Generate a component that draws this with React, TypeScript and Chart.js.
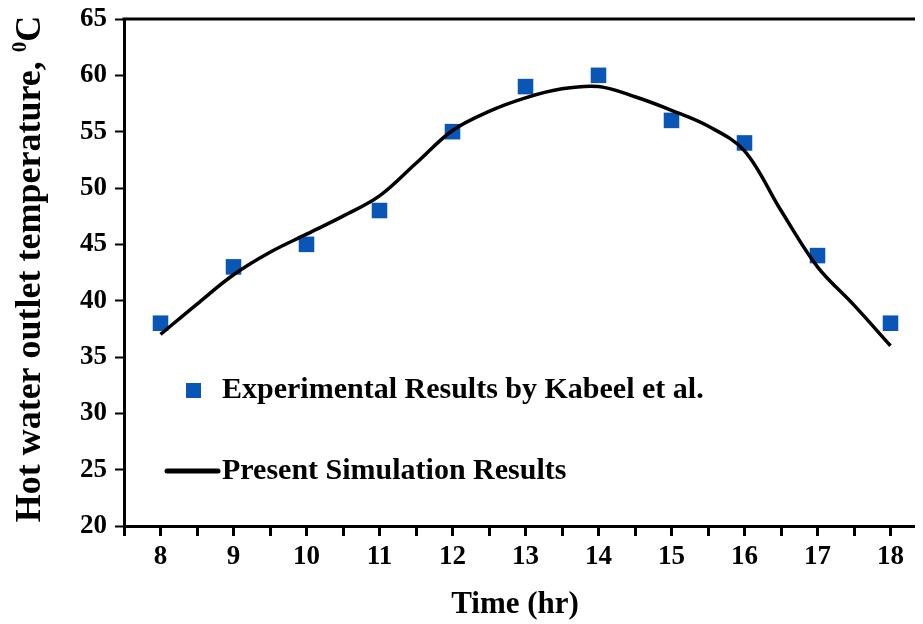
import React, { useEffect, useRef } from "react";
import { Chart, registerables } from "chart.js";

Chart.register(...registerables);

// Measured outlet temperatures (hourly)
const hours = [8, 9, 10, 11, 12, 13, 14, 15, 16, 17, 18];
const experimental = [38, 43, 45, 48, 55, 59, 60, 56, 54, 44, 38];

// Simulated outlet temperature (half-hourly)
const simHours = [8, 8.5, 9, 9.5, 10, 10.5, 11, 11.5, 12, 12.5, 13, 13.5, 14, 14.5, 15, 15.5, 16, 16.5, 17, 17.5, 18];
const simulated = [37.0, 39.7, 42.3, 44.3, 45.9, 47.5, 49.3, 52.2, 55.1, 56.8, 58.0, 58.8, 59.0, 58.1, 56.9, 55.5, 53.3, 48.0, 43.0, 39.6, 36.0];

const expLabel = "Experimental Results by Kabeel et al.";
const simLabel = "Present Simulation Results";
const xTitle = "Time (hr)";
const yTitleMain = "Hot water outlet temperature, ";
const yTitleSup = "0";
const yTitleUnit = "C";

const SERIF = '"Liberation Serif", "Times New Roman", serif';
const BLUE = "#0a56b6";

const decorPlugin = {
  id: "decor",
  afterDraw(chart: any) {
    const { ctx, chartArea } = chart;
    const { left, top, right } = chartArea;
    ctx.save();

    // top frame line
    ctx.strokeStyle = "#000";
    ctx.lineWidth = 3;
    ctx.beginPath();
    ctx.moveTo(left - 1.5, top);
    ctx.lineTo(right + 20, top);
    ctx.stroke();

    // legend inside the plot
    ctx.font = `bold 30px ${SERIF}`;
    ctx.textBaseline = "middle";
    ctx.textAlign = "left";
    const lx = left + 98;
    const y1 = top + 371;
    const y2 = top + 452;
    ctx.fillStyle = BLUE;
    ctx.fillRect(left + 62, y1 - 7, 15, 15);
    ctx.fillStyle = "#000";
    ctx.fillText(expLabel, lx, y1);
    ctx.lineWidth = 5;
    ctx.lineCap = "round";
    ctx.beginPath();
    ctx.moveTo(left + 43, y2);
    ctx.lineTo(left + 94, y2);
    ctx.stroke();
    ctx.fillText(simLabel, lx, y2);

    // x-axis title
    ctx.font = `bold 31px ${SERIF}`;
    ctx.textAlign = "center";
    ctx.fillText(xTitle, 507, 597);

    // y-axis title with superscript
    ctx.translate(23, 261);
    ctx.rotate(-Math.PI / 2);
    const mainFont = `bold 36px ${SERIF}`;
    const supFont = `bold 21px ${SERIF}`;
    ctx.font = mainFont;
    const w1 = ctx.measureText(yTitleMain).width;
    const w3 = ctx.measureText(yTitleUnit).width;
    ctx.font = supFont;
    const w2 = ctx.measureText(yTitleSup).width;
    let x = -(w1 + w2 + w3) / 2;
    ctx.textAlign = "left";
    ctx.font = mainFont;
    ctx.fillText(yTitleMain, x, 0);
    x += w1;
    ctx.font = supFont;
    ctx.fillText(yTitleSup, x, -10);
    x += w2;
    ctx.font = mainFont;
    ctx.fillText(yTitleUnit, x, 0);

    ctx.restore();
  },
};

export default function App() {
  const ref = useRef<HTMLCanvasElement | null>(null);

  useEffect(() => {
    if (!ref.current) return;
    const chart = new Chart(ref.current, {
      type: "scatter",
      data: {
        datasets: [
          {
            label: simLabel,
            data: simHours.map((h, i) => ({ x: h, y: simulated[i] })),
            showLine: true,
            borderColor: "#000",
            borderWidth: 3.5,
            pointRadius: 0,
            tension: 0.35,
            order: 0,
          },
          {
            label: expLabel,
            data: hours.map((h, i) => ({ x: h, y: experimental[i] })),
            pointStyle: "rect",
            pointRadius: 11,
            backgroundColor: BLUE,
            borderColor: BLUE,
            borderWidth: 0,
            order: 1,
          },
        ],
      },
      options: {
        responsive: false,
        animation: false,
        layout: { padding: { left: 0, top: 9, right: 7, bottom: 0 } },
        plugins: { legend: { display: false }, tooltip: { enabled: false } },
        scales: {
          x: {
            type: "linear",
            min: 7.5,
            max: 18.5,
            afterFit(scale: any) {
              scale.height = 98;
              scale.paddingLeft = 0;
              scale.paddingRight = 0;
            },
            border: { display: true, color: "#000", width: 3 },
            grid: { drawOnChartArea: false, drawTicks: true, tickLength: 10, tickWidth: 3, tickColor: "#000" },
            ticks: {
              stepSize: 0.5,
              autoSkip: false,
              maxRotation: 0,
              padding: 5,
              color: "#000",
              font: { family: SERIF, size: 27, weight: "bold" },
              callback: (v: any) => (Number.isInteger(v) ? String(v) : ""),
            },
          },
          y: {
            min: 20,
            max: 65,
            afterFit(scale: any) {
              scale.width = 116;
              scale.paddingTop = 0;
              scale.paddingBottom = 0;
            },
            border: { display: true, color: "#000", width: 3 },
            grid: { drawOnChartArea: false, drawTicks: true, tickLength: 9, tickWidth: 2, tickColor: "#000" },
            ticks: {
              stepSize: 5,
              padding: 8,
              color: "#000",
              font: { family: SERIF, size: 27, weight: "bold" },
            },
          },
        },
      },
      plugins: [decorPlugin],
    });
    return () => chart.destroy();
  }, []);

  return (
    <div style={{ width: 915, height: 616, overflow: "hidden" }}>
      <canvas ref={ref} width={930} height={616} style={{ display: "block" }} />
    </div>
  );
}
